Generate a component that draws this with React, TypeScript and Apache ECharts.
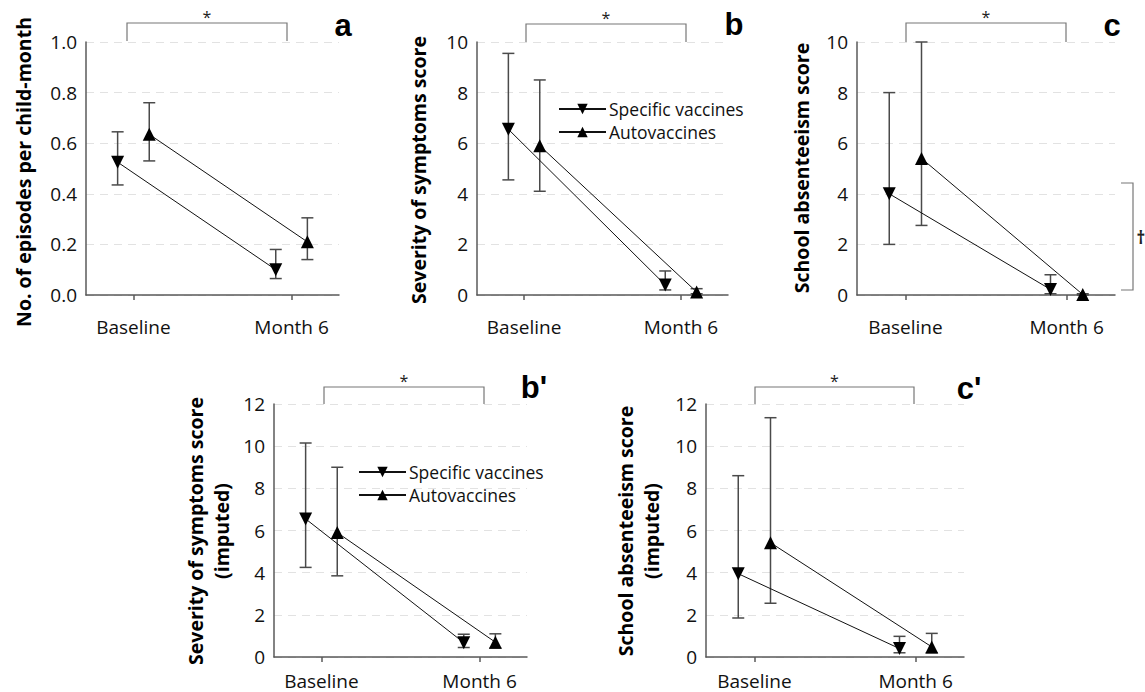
import React, { useEffect, useRef } from "react";
import * as echarts from "echarts";

// ---- data ----
const timepoints = ["Baseline", "Month 6"];
const groupNames = ["Specific vaccines", "Autovaccines"];

const aSpecMean = [0.525, 0.1];
const aSpecLow = [0.435, 0.065];
const aSpecHigh = [0.645, 0.18];
const aAutoMean = [0.635, 0.21];
const aAutoLow = [0.53, 0.14];
const aAutoHigh = [0.76, 0.305];

const bSpecMean = [6.55, 0.4];
const bSpecLow = [4.55, 0.2];
const bSpecHigh = [9.55, 0.95];
const bAutoMean = [5.9, 0.12];
const bAutoLow = [4.1, 0.05];
const bAutoHigh = [8.5, 0.25];

const cSpecMean = [4.0, 0.22];
const cSpecLow = [2.0, 0.05];
const cSpecHigh = [8.0, 0.8];
const cAutoMean = [5.4, 0.02];
const cAutoLow = [2.75, 0.0];
const cAutoHigh = [10.0, 0.05];

const b2SpecMean = [6.55, 0.68];
const b2SpecLow = [4.25, 0.45];
const b2SpecHigh = [10.15, 1.08];
const b2AutoMean = [5.9, 0.7];
const b2AutoLow = [3.85, 0.42];
const b2AutoHigh = [9.0, 1.1];

const c2SpecMean = [3.95, 0.4];
const c2SpecLow = [1.85, 0.2];
const c2SpecHigh = [8.6, 0.98];
const c2AutoMean = [5.42, 0.48];
const c2AutoLow = [2.55, 0.2];
const c2AutoHigh = [11.35, 1.12];

const yAxisTitles = [
  "No. of episodes per child-month",
  "Severity of symptoms score",
  "School absenteeism score",
  "Severity of symptoms score\n(imputed)",
  "School absenteeism score\n(imputed)",
];
const panelLetters = ["a", "b", "c", "b'", "c'"];
const yMaxes = [1.0, 10, 10, 12, 12];
const yIntervals = [0.2, 2, 2, 2, 2];
const yDecimals = [1, 0, 0, 0, 0];
const sigMark = "*";
const daggerMark = "\u2020";

const panelData = [
  { spec: [aSpecMean, aSpecLow, aSpecHigh], auto: [aAutoMean, aAutoLow, aAutoHigh] },
  { spec: [bSpecMean, bSpecLow, bSpecHigh], auto: [bAutoMean, bAutoLow, bAutoHigh] },
  { spec: [cSpecMean, cSpecLow, cSpecHigh], auto: [cAutoMean, cAutoLow, cAutoHigh] },
  { spec: [b2SpecMean, b2SpecLow, b2SpecHigh], auto: [b2AutoMean, b2AutoLow, b2AutoHigh] },
  { spec: [c2SpecMean, c2SpecLow, c2SpecHigh], auto: [c2AutoMean, c2AutoLow, c2AutoHigh] },
];

// ---- layout ----
const grids = [
  { left: 86, top: 42, width: 253, height: 253 },
  { left: 477, top: 42, width: 251, height: 253 },
  { left: 857, top: 42, width: 258, height: 253 },
  { left: 274, top: 404, width: 253, height: 253 },
  { left: 706, top: 404, width: 258, height: 253 },
];
const xLabelMargins = [22, 22, 22, 14, 14];
const yTitlePos = [
  { x: 23, y: 172 },
  { x: 418, y: 170 },
  { x: 801, y: 168 },
  { x: 208, y: 531 },
  { x: 638, y: 531 },
];
const letterPos = [
  { x: 343, y: 25 },
  { x: 734, y: 24 },
  { x: 1112, y: 25 },
  { x: 534, y: 387 },
  { x: 969, y: 388 },
];
const bracketPos = [
  { x1: 127, x2: 287, top: 23, bottom: 41 },
  { x1: 526, x2: 686, top: 24, bottom: 42 },
  { x1: 906, x2: 1066, top: 23, bottom: 42 },
  { x1: 324, x2: 484, top: 387, bottom: 404 },
  { x1: 755, x2: 914, top: 387, bottom: 404 },
];

const FONT = "'Open Sans', sans-serif";
const OFFSET = 0.1;
const AXIS_COLOR = "#5a5a5a";

function buildOption() {
  const grid: any[] = [];
  const xAxis: any[] = [];
  const yAxis: any[] = [];
  const series: any[] = [];
  const graphic: any[] = [];

  grids.forEach((g, p) => {
    grid.push({ ...g, containLabel: false });
    xAxis.push({
      type: "value",
      gridIndex: p,
      min: -0.3,
      max: 1.3,
      splitLine: { show: false },
      axisLine: { show: true, onZero: false, lineStyle: { color: AXIS_COLOR, width: 1.5 } },
      axisTick: {
        show: true,
        customValues: [0, 1],
        length: 5,
        lineStyle: { color: AXIS_COLOR, width: 1.5 },
      },
      axisLabel: {
        customValues: [0, 1],
        formatter: (v: number) => timepoints[Math.round(v)] ?? "",
        fontSize: 19,
        fontFamily: FONT,
        color: "#111",
        margin: xLabelMargins[p],
      },
    });
    yAxis.push({
      type: "value",
      gridIndex: p,
      min: 0,
      max: yMaxes[p],
      interval: yIntervals[p],
      axisLine: { show: true, onZero: false, lineStyle: { color: AXIS_COLOR, width: 1.5 } },
      axisTick: { show: false },
      axisLabel: {
        formatter: (v: number) => v.toFixed(yDecimals[p]),
        fontSize: 19,
        fontFamily: FONT,
        color: "#111",
        margin: 9,
      },
      splitLine: {
        show: true,
        lineStyle: { color: "#e2e2e2", type: [8, 6], width: 1 },
      },
    });

    const d = panelData[p];
    const ebData: number[][] = [];
    [d.spec, d.auto].forEach((grp, gi) => {
      const off = gi === 0 ? -OFFSET : OFFSET;
      grp[0].forEach((_, i) => {
        ebData.push([i + off, grp[1][i], grp[2][i]]);
      });
    });
    series.push({
      type: "custom",
      xAxisIndex: p,
      yAxisIndex: p,
      silent: true,
      z: 2,
      data: ebData,
      renderItem: (params: any, api: any) => {
        const x = api.value(0);
        const lo = api.coord([x, api.value(1)]);
        const hi = api.coord([x, api.value(2)]);
        const w = 6;
        const style = { stroke: "#4a4a4a", lineWidth: 1.5 };
        return {
          type: "group",
          children: [
            { type: "line", shape: { x1: lo[0], y1: lo[1], x2: hi[0], y2: hi[1] }, style },
            { type: "line", shape: { x1: lo[0] - w, y1: lo[1], x2: lo[0] + w, y2: lo[1] }, style },
            { type: "line", shape: { x1: hi[0] - w, y1: hi[1], x2: hi[0] + w, y2: hi[1] }, style },
          ],
        };
      },
    });
    [d.spec, d.auto].forEach((grp, gi) => {
      const off = gi === 0 ? -OFFSET : OFFSET;
      series.push({
        type: "line",
        name: groupNames[gi],
        xAxisIndex: p,
        yAxisIndex: p,
        z: 5,
        data: grp[0].map((m, i) => [i + off, m]),
        symbol: "triangle",
        symbolRotate: gi === 0 ? 180 : 0,
        symbolSize: 13,
        showSymbol: true,
        itemStyle: { color: "#000" },
        lineStyle: { color: "#111", width: 1 },
        silent: true,
      });
    });

    // y-axis title
    graphic.push({
      type: "text",
      x: yTitlePos[p].x,
      y: yTitlePos[p].y,
      rotation: Math.PI / 2,
      style: {
        text: yAxisTitles[p],
        font: `bold 19.5px ${FONT}`,
        fill: "#000",
        align: "center",
        verticalAlign: "middle",
        lineHeight: 26,
      },
    });
    // panel letter
    graphic.push({
      type: "text",
      x: letterPos[p].x,
      y: letterPos[p].y,
      style: {
        text: panelLetters[p],
        font: "bold 31px 'Liberation Sans', Arial, sans-serif",
        fill: "#000",
        align: "center",
        verticalAlign: "middle",
      },
    });
    // significance bracket
    const b = bracketPos[p];
    graphic.push({
      type: "polyline",
      shape: {
        points: [
          [b.x1, b.bottom],
          [b.x1, b.top],
          [b.x2, b.top],
          [b.x2, b.bottom],
        ],
      },
      style: { stroke: "#777", lineWidth: 1.2, fill: null },
    });
    graphic.push({
      type: "text",
      x: (b.x1 + b.x2) / 2,
      y: b.top - 6,
      style: {
        text: sigMark,
        font: `16px ${FONT}`,
        fill: "#222",
        align: "center",
        verticalAlign: "middle",
      },
    });
  });

  // dagger bracket (panel c)
  graphic.push({
    type: "polyline",
    shape: {
      points: [
        [1121, 183],
        [1133, 183],
        [1133, 290],
        [1121, 290],
      ],
    },
    style: { stroke: "#777", lineWidth: 1.2, fill: null },
  });
  graphic.push({
    type: "text",
    x: 1141,
    y: 237,
    style: {
      text: daggerMark,
      font: `bold 17px ${FONT}`,
      fill: "#222",
      align: "center",
      verticalAlign: "middle",
    },
  });

  const legendBase = {
    orient: "vertical",
    data: groupNames,
    itemWidth: 47,
    itemHeight: 13,
    itemGap: 5,
    selectedMode: false,
    textStyle: { fontSize: 17.5, fontFamily: FONT, color: "#111", padding: [0, 0, 0, -2] },
  };

  return {
    animation: false,
    backgroundColor: "#fff",
    grid,
    xAxis,
    yAxis,
    series,
    graphic,
    legend: [
      { ...legendBase, left: 553, top: 95 },
      { ...legendBase, left: 353, top: 458 },
    ],
  };
}

export default function App() {
  const ref = useRef<HTMLDivElement>(null);
  useEffect(() => {
    if (!ref.current) return;
    const chart = echarts.init(ref.current, null, { renderer: "svg" });
    chart.setOption(buildOption() as any);
    return () => chart.dispose();
  }, []);
  return (
    <div
      ref={ref}
      style={{ position: "absolute", left: 0, top: 0, width: 1145, height: 692, background: "#fff" }}
    />
  );
}
